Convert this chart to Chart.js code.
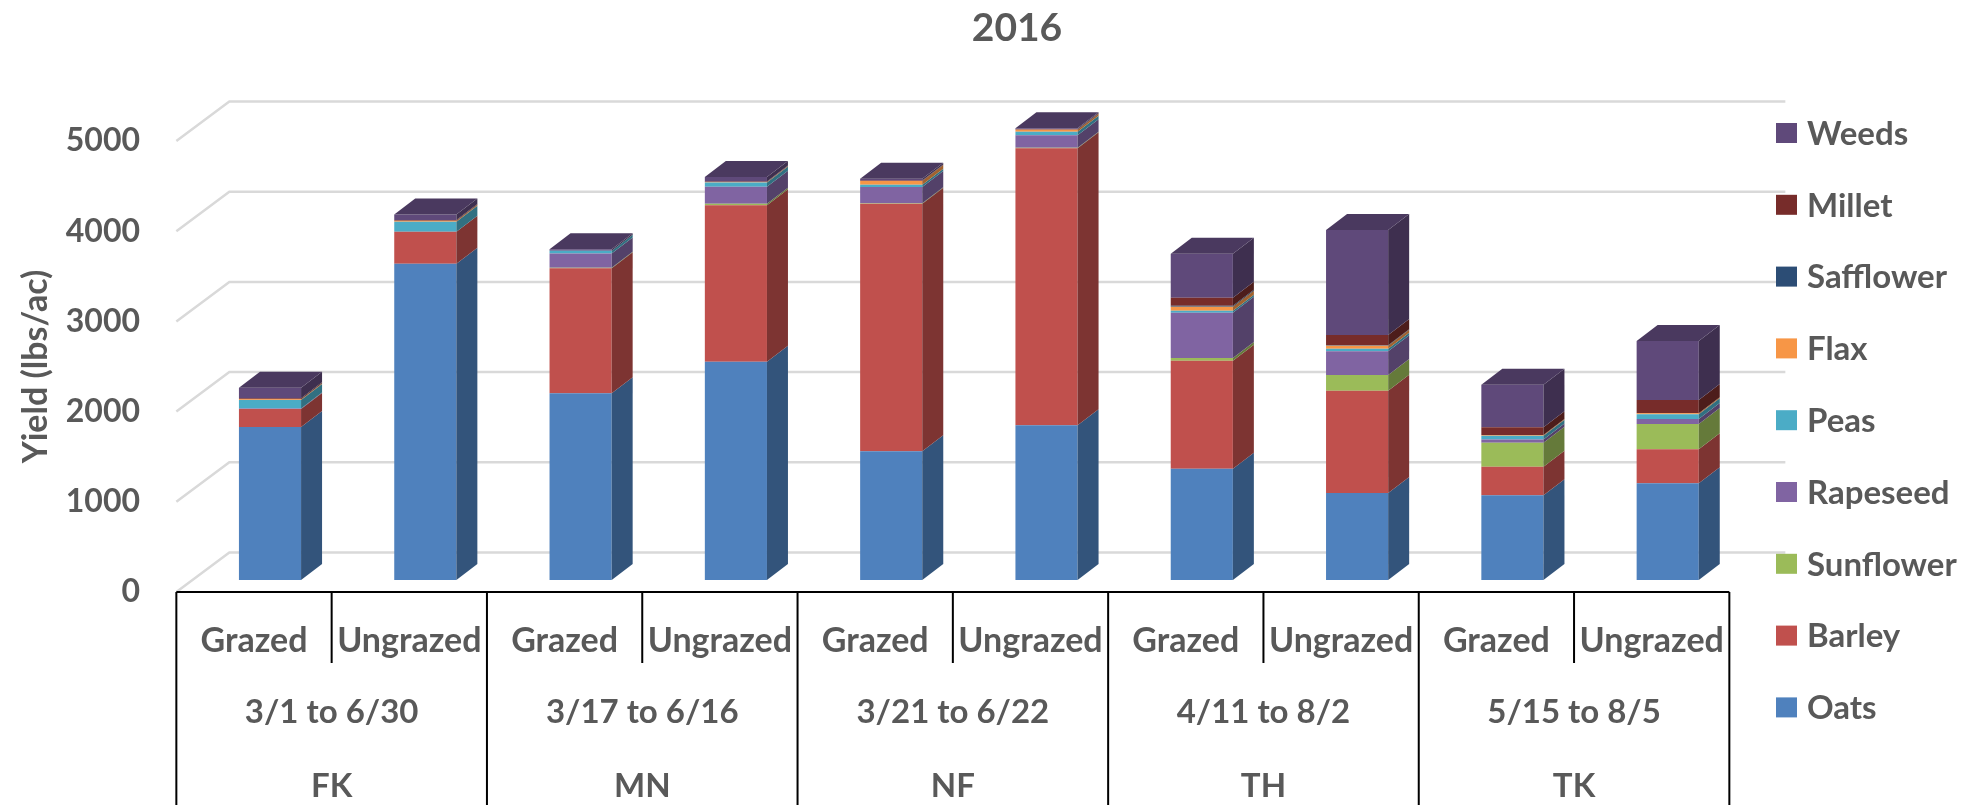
<!DOCTYPE html>
<html>
<head>
<meta charset="utf-8">
<script src="https://cdn.jsdelivr.net/npm/chart.js@4.4.1/dist/chart.umd.min.js"></script>
<style>
  html, body { margin: 0; padding: 0; background: #fff; }
  #wrap { width: 1980px; height: 805px; position: relative; }
</style>
</head>
<body>
<div id="wrap"><canvas id="myChart"></canvas></div>
<script>
const titulo = "2016";
const ejeY = "Yield (lbs/ac)";
const tratamientos = ["Grazed", "Ungrazed", "Grazed", "Ungrazed", "Grazed", "Ungrazed", "Grazed", "Ungrazed", "Grazed", "Ungrazed"];
const fechas = ["3/1 to 6/30", "3/17 to 6/16", "3/21 to 6/22", "4/11 to 8/2", "5/15 to 8/5"];
const sitios = ["FK", "MN", "NF", "TH", "TK"];
const yTicks = [0, 1000, 2000, 3000, 4000, 5000];

// valores por cultivo (lbs/ac), un valor por barra
const oats      = [1695, 3505, 2070, 2420, 1427, 1715, 1234,  965,  939, 1072];
const barley    = [ 200,  357, 1386, 1735, 2745, 3071, 1197, 1134,  317,  377];
const sunflower = [   0,    0,    5,   15,    5,    5,   30,  174,  266,  280];
const rapeseed  = [   5,    0,  160,  190,  180,  139,  503,  262,   37,   56];
const peas      = [  95,  110,   30,   48,   26,   40,   22,   29,   40,   52];
const flax      = [  10,   12,    0,    5,   41,   23,   44,   34,    8,   11];
const safflower = [   0,    0,    0,    0,    0,    0,   10,    5,    0,    0];
const millet    = [  10,    8,    0,    5,    5,    5,   90,  113,   86,  148];
const weeds     = [ 115,   60,   15,   50,   20,   10,  488, 1164,  472,  654];

const cultivos = ["Oats", "Barley", "Sunflower", "Rapeseed", "Peas", "Flax", "Safflower", "Millet", "Weeds"];
const series = [oats, barley, sunflower, rapeseed, peas, flax, safflower, millet, weeds];
const colores = ["#4F81BD", "#C0504D", "#9BBB59", "#8064A2", "#4BACC6", "#F79646", "#2C4D75", "#772C2A", "#5F497A"];

const FONT = "Lato";
const GRIS = "#595959";
// perspectiva: plano frontal, cara trasera de la barra y pared del fondo
const frente = { dx: -16, dy: 12 };
const prof = { dx: 21, dy: -16 };
const fondo = { dx: 37, dy: -27.5 };

function oscurecer(hex, f) {
    const n = parseInt(hex.slice(1), 16);
    const r = Math.round(((n >> 16) & 255) * f);
    const g = Math.round(((n >> 8) & 255) * f);
    const b = Math.round((n & 255) * f);
    return `rgb(${r},${g},${b})`;
}

function texto(ctx, str, x, yCentro, size, align) {
    ctx.font = `bold ${size}px ${FONT}`;
    ctx.textAlign = align || "center";
    ctx.textBaseline = "alphabetic";
    ctx.fillText(str, x, yCentro + size * 0.358);
}

const caja3d = {
    id: "caja3d",
    beforeDatasetsDraw(chart) {
        const { ctx, chartArea, scales } = chart;
        ctx.save();
        ctx.strokeStyle = "#d9d9d9";
        ctx.lineWidth = 2.5;
        yTicks.forEach((v) => {
            const py = scales.y.getPixelForValue(v);
            ctx.beginPath();
            ctx.moveTo(chartArea.left + frente.dx, py + frente.dy);
            ctx.lineTo(chartArea.left + fondo.dx, py + fondo.dy);
            ctx.lineTo(chartArea.right + fondo.dx + 3, py + fondo.dy);
            ctx.stroke();
        });
        ctx.restore();
    },
    afterDatasetsDraw(chart) {
        const ctx = chart.ctx;
        ctx.save();
        const n = chart.data.labels.length;
        for (let i = 0; i < n; i++) {
            let arriba = null;
            chart.data.datasets.forEach((ds, d) => {
                const bar = chart.getDatasetMeta(d).data[i];
                if (!bar || !ds.data[i]) return;
                const p = bar.getProps(["x", "y", "base", "width"], true);
                const der = p.x + p.width / 2;
                const top = Math.min(p.y, p.base);
                const bottom = Math.max(p.y, p.base);
                // cara lateral
                ctx.fillStyle = oscurecer(ds.backgroundColor, 0.65);
                ctx.beginPath();
                ctx.moveTo(der, top);
                ctx.lineTo(der + prof.dx, top + prof.dy);
                ctx.lineTo(der + prof.dx, bottom + prof.dy);
                ctx.lineTo(der, bottom);
                ctx.closePath();
                ctx.fill();
                arriba = { p, top, color: ds.backgroundColor };
            });
            if (arriba) {
                // tapa superior
                const izq = arriba.p.x - arriba.p.width / 2;
                const der = arriba.p.x + arriba.p.width / 2;
                ctx.fillStyle = oscurecer(arriba.color, 0.78);
                ctx.beginPath();
                ctx.moveTo(izq, arriba.top);
                ctx.lineTo(izq + prof.dx, arriba.top + prof.dy);
                ctx.lineTo(der + prof.dx, arriba.top + prof.dy);
                ctx.lineTo(der, arriba.top);
                ctx.closePath();
                ctx.fill();
            }
        }
        ctx.restore();
    },
    afterDraw(chart) {
        const { ctx, chartArea, scales } = chart;
        const x = scales.x;
        const y0 = scales.y.getPixelForValue(0) + frente.dy;
        const ancho = (chartArea.right - chartArea.left) / chart.data.labels.length;
        const izq = chartArea.left + frente.dx;
        const fin = chart.height;
        ctx.save();

        // tabla de categorias
        ctx.strokeStyle = "#000";
        ctx.lineWidth = 2;
        ctx.beginPath();
        ctx.moveTo(izq, y0);
        ctx.lineTo(chartArea.right + frente.dx, y0);
        for (let k = 0; k <= sitios.length; k++) {
            ctx.moveTo(izq + k * 2 * ancho, y0);
            ctx.lineTo(izq + k * 2 * ancho, fin);
        }
        for (let k = 0; k < sitios.length; k++) {
            ctx.moveTo(izq + (2 * k + 1) * ancho, y0);
            ctx.lineTo(izq + (2 * k + 1) * ancho, y0 + 71);
        }
        ctx.stroke();

        ctx.fillStyle = GRIS;
        tratamientos.forEach((t, i) => {
            texto(ctx, t, x.getPixelForValue(i) + frente.dx, y0 + 48, 34);
        });
        sitios.forEach((s, k) => {
            const cx = izq + (2 * k + 1) * ancho;
            texto(ctx, fechas[k], cx, y0 + 119, 33);
            texto(ctx, s, cx, y0 + 193, 33);
        });

        // leyenda (orden inverso)
        for (let k = 0; k < cultivos.length; k++) {
            const d = cultivos.length - 1 - k;
            const cy = 133 + k * 71.8;
            ctx.fillStyle = colores[d];
            ctx.fillRect(1776, cy - 10, 21, 20);
            ctx.fillStyle = GRIS;
            texto(ctx, cultivos[d], 1807, cy, 33, "left");
        }

        // titulo
        texto(ctx, titulo, 1017, 27.5, 39);

        // titulo del eje Y
        ctx.translate(35, (y0 + scales.y.getPixelForValue(5000) + frente.dy) / 2);
        ctx.rotate(-Math.PI / 2);
        texto(ctx, ejeY, 0, 0, 34);
        ctx.restore();
    }
};

function CargarChart() {
    const ctx = document.getElementById("myChart");
    const datasets = series.map((valores, d) => ({
        label: cultivos[d],
        data: valores,
        backgroundColor: colores[d],
        borderWidth: 0,
        barPercentage: 0.4,
        categoryPercentage: 1,
        clip: false,
    }));

    new Chart(ctx, {
        type: "bar",
        data: {
            labels: tratamientos,
            datasets: datasets,
        },
        plugins: [caja3d],
        options: {
            responsive: true,
            maintainAspectRatio: false,
            animation: false,
            devicePixelRatio: 1,
            layout: {
                padding: { top: 129, bottom: 225, left: 0, right: 234.65 },
            },
            plugins: {
                legend: { display: false },
                title: { display: false },
                tooltip: { enabled: false },
            },
            scales: {
                x: {
                    stacked: true,
                    display: false,
                },
                y: {
                    stacked: true,
                    min: 0,
                    max: 5000,
                    afterFit(scale) {
                        scale.width = 192.35;
                    },
                    grid: { display: false, drawTicks: false },
                    border: { display: false },
                    ticks: {
                        stepSize: 1000,
                        labelOffset: 12,
                        padding: 52.35,
                        color: GRIS,
                        font: { family: FONT, weight: "bold", size: 32 },
                        callback: (v) => String(v),
                    },
                },
            },
        },
    });
}

CargarChart();
</script>
</body>
</html>
